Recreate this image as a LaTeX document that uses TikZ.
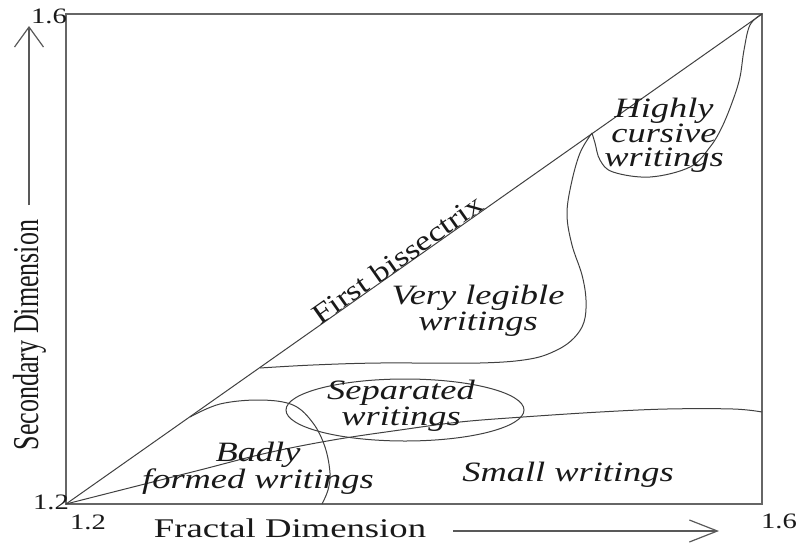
\documentclass[tikz,border=0pt]{standalone}
\usepackage{fontspec}
\setmainfont{Liberation Serif}
\usepackage{graphicx}
\usepackage{tikz}
\usetikzlibrary{arrows.meta}
\newcommand{\sx}[2][1.3]{\scalebox{#1}[1]{#2}}

\begin{document}
\begin{tikzpicture}[x=1pt, y=-1pt,
    % Style khung va duong bien
    framebox/.style={draw=black!60, line width=1.8pt},
    bound/.style={draw=black!75, line width=1pt},
    axisarrow/.style={draw=black!65, line width=1.2pt},
    % Style nhan
    region/.style={font=\fontsize{28}{23.5}\selectfont\itshape, text=black!90, align=center, inner sep=0pt},
    ticklabel/.style={font=\fontsize{22}{24}\selectfont, text=black!90, inner sep=0pt, anchor=base},
    axislabel/.style={font=\fontsize{27}{30}\selectfont, text=black!90, inner sep=0pt, anchor=base}
  ]
  \useasboundingbox (0,0) rectangle (801,544);

  % --- KHUNG ---
  \coordinate (O) at (66,504);
  \coordinate (T) at (762,14);
  \draw[framebox] (O) rectangle (T);

  % Duong phan giac
  \draw[bound] (O) -- node[pos=0.484, sloped, anchor=base, inner sep=0pt,
      font=\fontsize{28}{30}\selectfont, text=black!90] (bis) {\sx[1.22]{First bissectrix}} (T);

  % --- DUONG BIEN CAC VUNG ---
  % Highly cursive
  \draw[bound] plot[smooth, tension=0.6] coordinates {(592,133) (595,143) (600,160) (613,172)
      (650,177) (690,167) (710,147) (722,127) (733,100) (740,77) (744,50) (750,25) (T)};
  % Very legible
  \draw[bound] plot[smooth, tension=0.6] coordinates {(592,133) (580,153) (571,185) (567,215)
      (572,245) (582,275) (586,300) (584,322) (574,338) (557,350) (530,359) (480,363)
      (380,363) (313,365) (260,368)};
  % Badly formed
  \draw[bound] plot[smooth, tension=0.6] coordinates {(190,417) (220,404) (260,400) (293,405)
      (313,423) (325,447) (330,473) (328,490) (322,504)};
  % Small writings
  \draw[bound] plot[smooth, tension=0.6] coordinates {(O) (133,487) (200,470) (267,453)
      (333,440) (400,430) (460,422) (523,417) (600,412) (667,409) (733,409) (762,412)};
  % Separated
  \draw[bound] (405,410) ellipse [x radius=119, y radius=31];

  % --- NHAN VUNG ---
  \node[region] (highly) at (664,135) {\sx{Highly}\\ \sx{cursive}\\ \sx{writings}};
  \node[region] (legible) at (478,311) {\sx{Very legible}\\ \sx{writings}};
  \node[region] (separated) at (401,406) {\sx{Separated}\\ \sx{writings}};
  \node[region] (badly) at (258,468) {\sx{Badly}\\ \sx{formed writings}};
  \node[region, anchor=base] (small) at (568,481) {\sx{Small writings}};

  % --- TRUC ---
  \node[ticklabel] (ytop) at (49,23) {\sx{1.6}};
  \node[ticklabel] (ybot) at (51,509) {\sx{1.2}};
  \node[ticklabel] (xleft) at (88,529) {\sx{1.2}};
  \node[ticklabel] (xright) at (779,528) {\sx{1.6}};

  \node[axislabel] (xname) at (290,537) {\sx[1.36]{Fractal Dimension}};
  \node[axislabel, font=\fontsize{26}{28}\selectfont, rotate=90] (yname) at (38,335)
      {\scalebox{1}[1.4]{Secondary Dimension}};

  \coordinate (xs) at (453,531);
  \coordinate (xe) at (719,531);
  \coordinate (ys) at (29,205);
  \coordinate (ye) at (29,26);
  \draw[axisarrow, -{Straight Barb[length=28pt, width=22pt]}] (xs) -- (xe);
  \draw[axisarrow, -{Straight Barb[length=20pt, width=29pt]}] (ys) -- (ye);

\end{tikzpicture}
\end{document}
